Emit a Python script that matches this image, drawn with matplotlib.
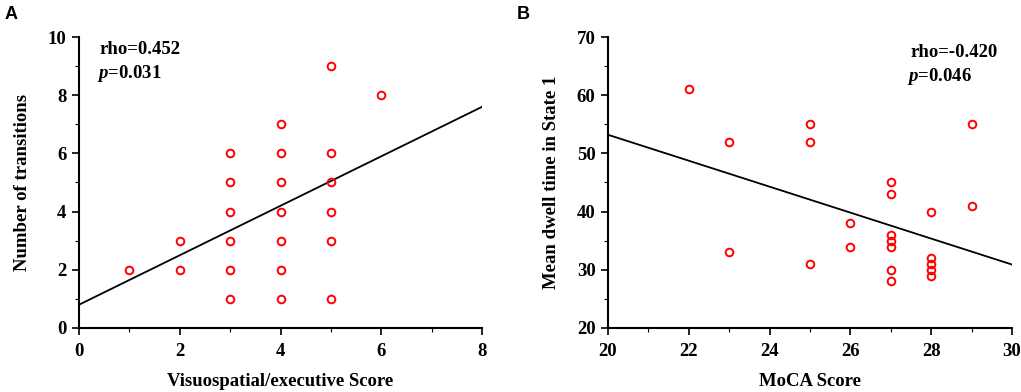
import numpy as np
import matplotlib
matplotlib.use("Agg")
import matplotlib.pyplot as plt
from matplotlib.ticker import MultipleLocator

plt.rcParams["font.family"] = "Liberation Serif"
plt.rcParams["font.weight"] = "bold"
plt.rcParams["mathtext.fontset"] = "custom"
plt.rcParams["mathtext.it"] = "Liberation Serif:bold:italic"
plt.rcParams["mathtext.rm"] = "Liberation Serif:bold"

# -----------------------------
# Data
# -----------------------------
# Panel A: visuospatial/executive score vs number of transitions
vis_score = [1, 2, 2, 3, 3, 3, 3, 3, 3, 4, 4, 4, 4, 4, 4, 4, 5, 5, 5, 5, 5, 5, 6]
transitions = [2, 2, 3, 1, 2, 3, 4, 5, 6, 1, 2, 3, 4, 5, 6, 7, 1, 3, 4, 5, 6, 9, 8]
fit_a_x = [0, 8]
fit_a_y = [0.8, 7.6]

# Panel B: MoCA score vs mean dwell time in state 1
moca_score = [22, 23, 23, 25, 25, 25, 26, 26, 27, 27, 27, 27, 27, 27, 27,
              28, 28, 28, 28, 28, 29, 29]
dwell_time = [61, 52, 33, 55, 52, 31, 38, 34, 45, 43, 36, 35, 34, 30, 28,
              40, 32, 31, 30, 29, 55, 41]
fit_b_x = [20, 30]
fit_b_y = [53.2, 30.9]

# -----------------------------
# Plot
# -----------------------------
fig = plt.figure(figsize=(10.21, 3.92), dpi=100)
ax_a = fig.add_axes([0.0774, 0.1633, 0.3947, 0.7423])
ax_b = fig.add_axes([0.5955, 0.1633, 0.3957, 0.7423])


def style_axis(ax):
    for side in ["top", "right"]:
        ax.spines[side].set_visible(False)
    for side in ["left", "bottom"]:
        ax.spines[side].set_linewidth(1.5)
    ax.tick_params(which="major", direction="out", length=5, width=1.2,
                   labelsize=13.5)
    ax.tick_params(which="minor", direction="out", length=3, width=0.8)
    ax.tick_params(axis="x", pad=6)
    ax.tick_params(axis="y", pad=4)
    for lbl in ax.get_xticklabels() + ax.get_yticklabels():
        lbl.set_fontweight("bold")


ax_a.plot(fit_a_x, fit_a_y, color="black", lw=1.3)
ax_a.plot(vis_score, transitions, "o", mfc="none", mec="red", ms=5.5, mew=1.4,
          clip_on=False)
ax_a.set_xlim(0, 8)
ax_a.set_ylim(0, 10)
ax_a.xaxis.set_major_locator(MultipleLocator(2))
ax_a.xaxis.set_minor_locator(MultipleLocator(1))
ax_a.yaxis.set_major_locator(MultipleLocator(2))
ax_a.yaxis.set_minor_locator(MultipleLocator(1))
style_axis(ax_a)
ax_a.set_xlabel("Visuospatial/executive Score", fontsize=13.5,
                fontweight="bold", labelpad=9)
ax_a.set_ylabel("Number of transitions", fontsize=13.5, fontweight="bold",
                labelpad=12)
ax_a.text(0.052, 0.985, "rho=0.452", transform=ax_a.transAxes, fontsize=13.5,
          fontweight="bold", va="top")
ax_a.text(0.045, 0.91, r"$p$=0.031", transform=ax_a.transAxes, fontsize=13.5,
          fontweight="bold", va="top")

ax_b.plot(fit_b_x, fit_b_y, color="black", lw=1.3)
ax_b.plot(moca_score, dwell_time, "o", mfc="none", mec="red", ms=5.5, mew=1.4,
          clip_on=False)
ax_b.set_xlim(20, 30)
ax_b.set_ylim(20, 70)
ax_b.xaxis.set_major_locator(MultipleLocator(2))
ax_b.xaxis.set_minor_locator(MultipleLocator(1))
ax_b.yaxis.set_major_locator(MultipleLocator(10))
ax_b.yaxis.set_minor_locator(MultipleLocator(5))
style_axis(ax_b)
ax_b.set_xlabel("MoCA Score", fontsize=13.5, fontweight="bold", labelpad=9)
ax_b.set_ylabel("Mean dwell time in State 1", fontsize=13.5,
                fontweight="bold", labelpad=12)
ax_b.text(0.748, 0.975, "rho=-0.420", transform=ax_b.transAxes, fontsize=13.5,
          fontweight="bold", va="top")
ax_b.text(0.741, 0.9, r"$p$=0.046", transform=ax_b.transAxes, fontsize=13.5,
          fontweight="bold", va="top")

fig.text(0.004, 0.985, "A", fontsize=13, fontweight="bold",
         family="Liberation Sans", va="top")
fig.text(0.506, 0.985, "B", fontsize=13, fontweight="bold",
         family="Liberation Sans", va="top")

fig.savefig("out.png", dpi=100)
